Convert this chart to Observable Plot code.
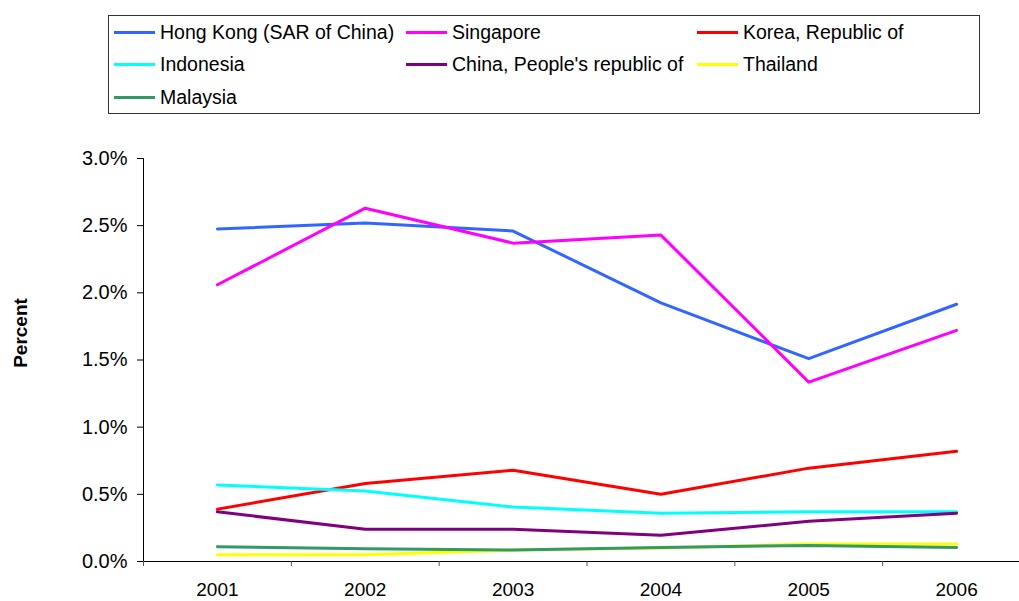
<!DOCTYPE html>
<html>
<head>
<meta charset="utf-8">
<script src="https://cdn.jsdelivr.net/npm/d3@7"></script>
<script src="https://cdn.jsdelivr.net/npm/@observablehq/plot@0.6"></script>
<style>
  body { margin: 0; background: #fff; font-family: "Liberation Sans", Arial, sans-serif; }
  #top { position: relative; height: 120px; width: 1019px; }
  #legend { position: absolute; left: 108px; top: 15px; width: 872px; height: 99px; border: 1px solid #333; box-sizing: border-box; }
  .item { position: absolute; height: 22px; display: flex; align-items: center; font-size: 19.5px; color: #000; white-space: nowrap; }
  .sw { width: 41px; height: 3px; margin-right: 5px; }
  #chart svg { display: block; }
</style>
</head>
<body>
<div id="top"><div id="legend"></div></div>
<div id="chart"></div>
<script>
const years = [2001, 2002, 2003, 2004, 2005, 2006];
const seriesNames = ["Hong Kong (SAR of China)", "Singapore", "Korea, Republic of", "Indonesia", "China, People's republic of", "Thailand", "Malaysia"];
const hongKong  = [2.475, 2.52, 2.46, 1.925, 1.51, 1.915];
const singapore = [2.06, 2.63, 2.37, 2.43, 1.335, 1.72];
const korea     = [0.39, 0.58, 0.68, 0.50, 0.695, 0.82];
const indonesia = [0.57, 0.525, 0.405, 0.36, 0.37, 0.37];
const china     = [0.37, 0.24, 0.24, 0.195, 0.30, 0.36];
const thailand  = [0.05, 0.05, 0.085, 0.10, 0.13, 0.13];
const malaysia  = [0.11, 0.095, 0.085, 0.105, 0.12, 0.105];
const yTicks = [0, 0.5, 1.0, 1.5, 2.0, 2.5, 3.0];

const colors = ["#3366FF", "#FF00FF", "#FF0000", "#00FFFF", "#800080", "#FFFF00", "#339966"];
const seriesValues = [hongKong, singapore, korea, indonesia, china, thailand, malaysia];

const rows = [];
seriesNames.forEach((name, i) => {
  years.forEach((yr, j) => rows.push({series: name, year: yr, value: seriesValues[i][j]}));
});

// legend
const legend = document.getElementById("legend");
const colX = [5, 297, 588];
const rowY = [5, 37, 70];
seriesNames.forEach((name, i) => {
  const it = document.createElement("div");
  it.className = "item";
  it.style.left = colX[i % 3] + "px";
  it.style.top = rowY[Math.floor(i / 3)] + "px";
  const sw = document.createElement("div");
  sw.className = "sw";
  sw.style.background = colors[i];
  it.appendChild(sw);
  const t = document.createElement("span");
  t.textContent = name;
  it.appendChild(t);
  legend.appendChild(it);
});

const boundaries = years.map(y => y - 0.5).concat([years[years.length - 1] + 0.5]);

const chart = Plot.plot({
  width: 1019,
  height: 481,
  marginLeft: 143,
  marginRight: 0,
  marginTop: 38,
  marginBottom: 40,
  style: {fontFamily: "Liberation Sans, Arial, sans-serif", color: "#000", background: "#fff"},
  x: {domain: [boundaries[0], boundaries[boundaries.length - 1]], range: [143, 1030]},
  y: {domain: [0, 3], range: [441, 38]},
  color: {domain: seriesNames, range: colors},
  marks: [
    Plot.line(rows, {x: "year", y: "value", z: "series", stroke: "series", strokeWidth: 3}),
    Plot.frame({anchor: "left", stroke: "#000"}),
    Plot.ruleY([0], {stroke: "#000"}),
    Plot.axisY({ticks: yTicks, tickSize: 6, tickPadding: 10, fontSize: 20, tickFormat: d => d.toFixed(1) + "%", label: null, stroke: "#000"}),
    Plot.axisX({ticks: boundaries, tickSize: 5, tickFormat: () => "", label: null, stroke: "#555"}),
    Plot.axisX({ticks: years, tickSize: 0, tickPadding: 21, fontSize: 19, tickFormat: d => String(d), label: null}),
    Plot.text(["Percent"], {frameAnchor: "left", textAnchor: "middle", rotate: -90, dx: -123, dy: -27, fontWeight: "bold", fontSize: 19})
  ]
});
document.getElementById("chart").appendChild(chart);
</script>
</body>
</html>
